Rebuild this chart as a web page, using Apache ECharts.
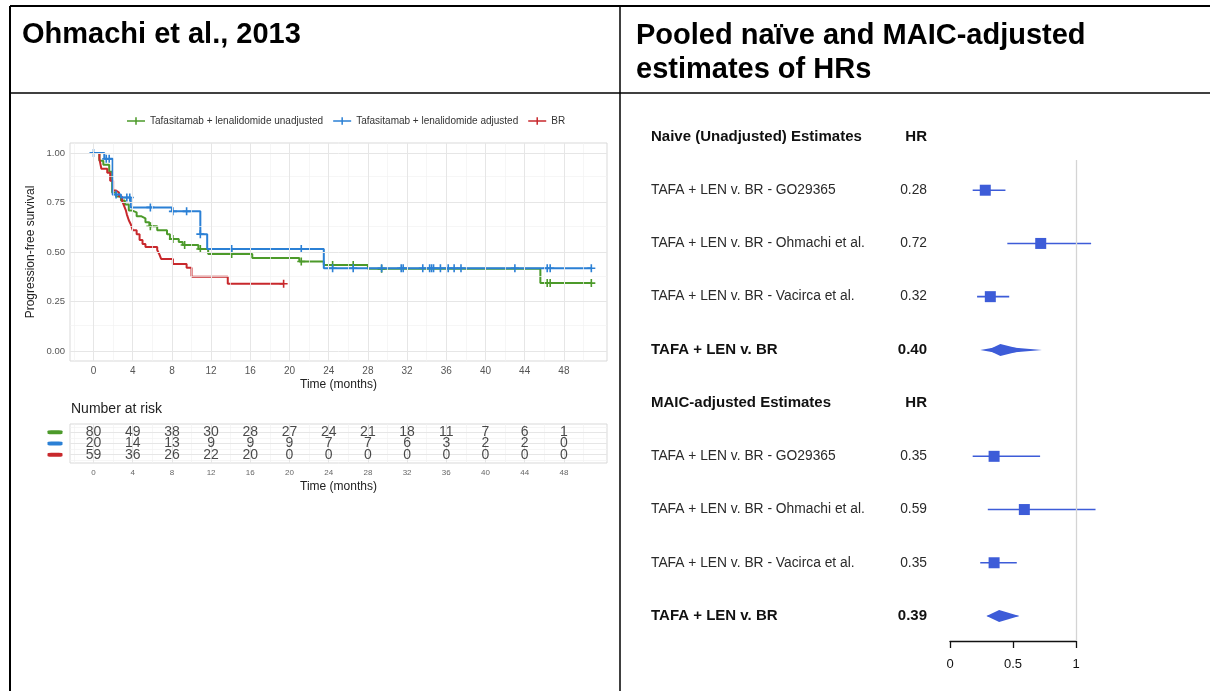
<!DOCTYPE html>
<html>
<head>
<meta charset="utf-8">
<script src="https://cdn.jsdelivr.net/npm/echarts@6/dist/echarts.min.js"></script>
<style>
  html, body { margin: 0; padding: 0; background: #fff; }
  #chart { width: 1210px; height: 691px; }
</style>
</head>
<body>
<div id="chart"></div>
<script>
// ---- KM curves (time in months, survival) ----
var greenT = [0, 0.6, 1.0, 1.6, 1.9, 2.3, 2.8, 3.2, 3.6, 3.9, 4.4, 4.9, 5.3, 5.7, 6.5, 7.5, 7.8, 8.7, 9.1, 10.7, 11.7, 16.2, 21.0, 23.5, 28.0, 45.6, 50.8];
var greenS = [1.0, 0.96, 0.94, 0.905, 0.80, 0.78, 0.76, 0.74, 0.71, 0.70, 0.68, 0.67, 0.65, 0.63, 0.61, 0.59, 0.565, 0.55, 0.535, 0.515, 0.49, 0.47, 0.452, 0.435, 0.415, 0.343, 0.343];
var greenCens = [5.8, 8.1, 9.3, 10.9, 14.1, 21.2, 24.4, 26.5, 29.4, 46.3, 46.6, 50.8];

var blueT = [0, 1.1, 1.95, 2.8, 3.8, 8.0, 10.9, 11.6, 23.5, 50.8];
var blueS = [1.0, 0.97, 0.79, 0.775, 0.725, 0.705, 0.59, 0.515, 0.418, 0.418];
var blueCens = [0, 1.3, 1.6, 2.3, 3.4, 3.7, 5.8, 8.1, 9.5, 10.9, 14.1, 21.2, 24.4, 26.5, 29.4, 31.4, 31.6, 33.6, 34.3, 34.5, 34.7, 35.4, 36.2, 36.8, 37.5, 43.0, 46.3, 46.6, 50.8];

var redT = [0, 0.6, 0.8, 1.4, 1.7, 2.0, 2.3, 2.6, 2.9, 3.1, 3.3, 3.4, 3.6, 3.8, 4.0, 4.4, 4.7, 5.0, 5.3, 6.5, 6.7, 6.9, 8.1, 9.5, 10.0, 13.7, 19.4];
var redS = [1.0, 0.97, 0.92, 0.90, 0.86, 0.81, 0.80, 0.78, 0.76, 0.735, 0.71, 0.69, 0.66, 0.64, 0.61, 0.59, 0.56, 0.54, 0.525, 0.51, 0.49, 0.465, 0.44, 0.42, 0.375, 0.34, 0.34];
var redCens = [19.4];

var seriesNames = ["Tafasitamab + lenalidomide unadjusted", "Tafasitamab + lenalidomide adjusted", "BR"];

// ---- number at risk ----
var riskMonths = [0, 4, 8, 12, 16, 20, 24, 28, 32, 36, 40, 44, 48];
var riskGreen = [80, 49, 38, 30, 28, 27, 24, 21, 18, 11, 7, 6, 1];
var riskBlue = [20, 14, 13, 9, 9, 9, 7, 7, 6, 3, 2, 2, 0];
var riskRed = [59, 36, 26, 22, 20, 0, 0, 0, 0, 0, 0, 0, 0];
var survTicks = [0, 0.25, 0.5, 0.75, 1];

// ---- forest plot ----
var rowNames = ["Naive (Unadjusted) Estimates", "TAFA + LEN v. BR - GO29365", "TAFA + LEN v. BR - Ohmachi et al.",
    "TAFA + LEN v. BR - Vacirca et al.", "TAFA + LEN v. BR", "MAIC-adjusted Estimates",
    "TAFA + LEN v. BR - GO29365", "TAFA + LEN v. BR - Ohmachi et al.", "TAFA + LEN v. BR - Vacirca et al.", "TAFA + LEN v. BR"];
var rowHR = ["HR", "0.28", "0.72", "0.32", "0.40", "HR", "0.35", "0.59", "0.35", "0.39"];
var boldRows = [0, 4, 5, 9];

var studyRows = [1, 2, 3, 6, 7, 8];
var studyHR = [0.28, 0.72, 0.32, 0.35, 0.59, 0.35];
var studyLo = [0.18, 0.455, 0.215, 0.18, 0.30, 0.24];
var studyHi = [0.44, 1.12, 0.47, 0.715, 1.155, 0.53];

var pooledRows = [4, 9];
var pooledHR = [0.40, 0.39];
var pooledLo = [0.24, 0.29];
var pooledHi = [0.73, 0.55];
var pooledInnerLo = [0.30, 0.29];
var pooledInnerHi = [0.59, 0.55];

var FONT = "Liberation Sans, Arial, sans-serif";
var GREEN = "#4c9a2a", BLUE = "#2b80d5", RED = "#c8282c", FOREST = "#3d5cd8";
var crossIcon = "path://M4,0h2v4h4v2h-4v4h-2v-4h-4v-2h4z";
var legendIcon = "path://M0,4h24v2h-24z M11,0h2v10h-2z";
var X_MIN = -2.4, X_MAX = 52.4;

function zip(a, b) {
    return a.map(function (v, i) { return [v, b[i]]; });
}
function survAt(T, S, t) {
    var s = S[0];
    for (var i = 0; i < T.length; i++) {
        if (T[i] <= t) s = S[i];
    }
    return s;
}
function censorPoints(T, S, cens) {
    return cens.map(function (t) { return [t, survAt(T, S, t)]; });
}

// gridlines (major/minor) as markLines
function gridMarks(xMajor, xMinor, yMajor, yMinor) {
    var major = {color: "#e6e6e6", width: 1, type: "solid"};
    var minor = {color: "#f2f2f2", width: 0.7, type: "solid"};
    var d = [];
    xMinor.forEach(function (v) { d.push({xAxis: v, lineStyle: minor}); });
    yMinor.forEach(function (v) { d.push({yAxis: v, lineStyle: minor}); });
    xMajor.forEach(function (v) { d.push({xAxis: v, lineStyle: major}); });
    yMajor.forEach(function (v) { d.push({yAxis: v, lineStyle: major}); });
    return {silent: true, symbol: ["none", "none"], label: {show: false}, data: d};
}

var minorMonths = [-2, 2, 6, 10, 14, 18, 22, 26, 30, 34, 38, 42, 46, 50];

function riskSeries(row, values) {
    return {
        type: "scatter", xAxisIndex: 1, yAxisIndex: 1, symbolSize: 1, z: 5,
        itemStyle: {color: "transparent"},
        label: {show: true, position: "inside", fontSize: 14, color: "#1a1a1a",
            formatter: function (p) { return p.value[2]; }},
        labelLayout: {hideOverlap: false},
        data: riskMonths.map(function (m, i) { return [m, row, values[i]]; })
    };
}

function censorSeries(T, S, cens, color, z) {
    return {type: "scatter", xAxisIndex: 0, yAxisIndex: 0, symbol: crossIcon, symbolSize: 8,
        itemStyle: {color: color, opacity: 1}, z: z, data: censorPoints(T, S, cens)};
}

var chart = echarts.init(document.getElementById("chart"));

var option = {
    animation: false,
    textStyle: {fontFamily: FONT},
    title: [
        {text: "Ohmachi et al., 2013", left: 22, top: 20, padding: 0,
            textStyle: {fontSize: 29, fontWeight: "bold", color: "#000", fontFamily: FONT}},
        {text: "Pooled naïve and MAIC-adjusted\nestimates of HRs", left: 636, top: 19, padding: 0,
            textStyle: {fontSize: 29, lineHeight: 34, fontWeight: "bold", color: "#000", fontFamily: FONT}},
        {text: "Number at risk", left: 71, top: 402, padding: 0,
            textStyle: {fontSize: 14, fontWeight: "normal", color: "#222", fontFamily: FONT}}
    ],
    graphic: [
        {type: "line", shape: {x1: 10, y1: 6, x2: 1210, y2: 6}, style: {stroke: "#000", lineWidth: 2}},
        {type: "line", shape: {x1: 10, y1: 6, x2: 10, y2: 691}, style: {stroke: "#000", lineWidth: 2}},
        {type: "line", shape: {x1: 620, y1: 6, x2: 620, y2: 691}, style: {stroke: "#000", lineWidth: 1.5}},
        {type: "line", shape: {x1: 10, y1: 93, x2: 1210, y2: 93}, style: {stroke: "#000", lineWidth: 1.5}}
    ],
    legend: {
        left: 122, top: 111, itemWidth: 18, itemHeight: 9, itemGap: 10,
        data: [
            {name: seriesNames[0], icon: legendIcon},
            {name: seriesNames[1], icon: legendIcon},
            {name: seriesNames[2], icon: legendIcon}
        ],
        textStyle: {fontSize: 10, color: "#333", fontFamily: FONT}
    },
    grid: [
        {left: 70, top: 143, width: 537, height: 218, show: true, borderColor: "#d9d9d9", borderWidth: 1, backgroundColor: "#fff"},
        {left: 70, top: 424, width: 537, height: 39, show: true, borderColor: "#d9d9d9", borderWidth: 1, backgroundColor: "#fff"},
        {left: 950, top: 137, width: 126, height: 504, show: false}
    ],
    xAxis: [
        {
            gridIndex: 0, type: "value", min: X_MIN, max: X_MAX,
            axisLine: {show: false}, splitLine: {show: false},
            axisTick: {customValues: riskMonths, length: 3, lineStyle: {color: "#999"}},
            axisLabel: {customValues: riskMonths, fontSize: 10, color: "#555", margin: 5},
            name: "Time (months)", nameLocation: "middle", nameGap: 18,
            nameTextStyle: {fontSize: 12, color: "#222"}
        },
        {
            gridIndex: 1, type: "value", min: X_MIN, max: X_MAX,
            axisLine: {show: false}, splitLine: {show: false},
            axisTick: {customValues: riskMonths, length: 3, lineStyle: {color: "#aaa"}},
            axisLabel: {customValues: riskMonths, fontSize: 8, color: "#666", margin: 6},
            name: "Time (months)", nameLocation: "middle", nameGap: 18,
            nameTextStyle: {fontSize: 12, color: "#222"}
        },
        {
            gridIndex: 2, type: "value", min: 0, max: 1, interval: 0.5, position: "bottom",
            axisLine: {show: true, onZero: false, lineStyle: {color: "#111", width: 1.3}},
            axisTick: {show: true, length: 7, lineStyle: {color: "#111", width: 1.3}},
            axisLabel: {fontSize: 13, color: "#111", margin: 17},
            splitLine: {show: false}
        }
    ],
    yAxis: [
        {
            gridIndex: 0, type: "value", min: -0.05, max: 1.05,
            axisLine: {show: false}, splitLine: {show: false},
            axisTick: {customValues: survTicks, length: 3, lineStyle: {color: "#999"}},
            axisLabel: {customValues: survTicks, fontSize: 9.5, color: "#555", margin: 5,
                formatter: function (v) { return v.toFixed(2); }},
            name: "Progression-free survival", nameLocation: "middle", nameGap: 33, nameRotate: 90,
            nameTextStyle: {fontSize: 12, color: "#222"}
        },
        {
            gridIndex: 1, type: "value", inverse: true, min: -0.75, max: 2.75,
            axisLine: {show: false}, splitLine: {show: false}, axisTick: {show: false},
            axisLabel: {show: false}
        },
        {
            gridIndex: 2, type: "value", inverse: true, min: 0, max: 9.47, interval: 1,
            axisLine: {show: false}, splitLine: {show: false}, axisTick: {show: false},
            axisLabel: {
                margin: 23, showMaxLabel: false,
                formatter: function (v) {
                    if (v !== Math.round(v) || v > 9) return "";
                    var b = boldRows.indexOf(v) >= 0;
                    return b ? "{nb|" + rowNames[v] + "}{hb|" + rowHR[v] + "}"
                        : "{n|" + rowNames[v] + "}{h|" + rowHR[v] + "}";
                },
                rich: {
                    n: {width: 240, align: "left", fontSize: 13.8, color: "#2a2a2a", fontFamily: FONT},
                    h: {width: 36, align: "right", fontSize: 13.8, color: "#2a2a2a", fontFamily: FONT},
                    nb: {width: 240, align: "left", fontSize: 15, fontWeight: "bold", color: "#111", fontFamily: FONT},
                    hb: {width: 36, align: "right", fontSize: 15, fontWeight: "bold", color: "#111", fontFamily: FONT}
                }
            }
        }
    ],
    series: [
        // KM grid lines
        {type: "line", xAxisIndex: 0, yAxisIndex: 0, data: [], z: 1,
            markLine: gridMarks(riskMonths, minorMonths, survTicks, [0.125, 0.375, 0.625, 0.875])},
        // risk table grid lines
        {type: "line", xAxisIndex: 1, yAxisIndex: 1, data: [], z: 1,
            markLine: gridMarks(riskMonths, minorMonths, [0, 1, 2], [-0.5, 0.5, 1.5, 2.5])},
        {name: seriesNames[0], type: "line", step: "end", xAxisIndex: 0, yAxisIndex: 0, showSymbol: false,
            color: GREEN, lineStyle: {width: 2}, data: zip(greenT, greenS), z: 3},
        {name: seriesNames[2], type: "line", step: "end", xAxisIndex: 0, yAxisIndex: 0, showSymbol: false,
            color: RED, lineStyle: {width: 2}, data: zip(redT, redS), z: 3},
        {name: seriesNames[1], type: "line", step: "end", xAxisIndex: 0, yAxisIndex: 0, showSymbol: false,
            color: BLUE, lineStyle: {width: 2}, data: zip(blueT, blueS), z: 4},
        censorSeries(greenT, greenS, greenCens, GREEN, 3),
        censorSeries(redT, redS, redCens, RED, 3),
        censorSeries(blueT, blueS, blueCens, BLUE, 4),
        // risk table colour keys (left of the table)
        {type: "scatter", xAxisIndex: 1, yAxisIndex: 1, clip: false, symbol: "roundRect",
            symbolSize: [15, 4], symbolOffset: [-15, 0], z: 5,
            data: [
                {value: [X_MIN, 0], itemStyle: {color: GREEN, opacity: 1}},
                {value: [X_MIN, 1], itemStyle: {color: BLUE, opacity: 1}},
                {value: [X_MIN, 2], itemStyle: {color: RED, opacity: 1}}
            ]},
        // number at risk values
        riskSeries(0, riskGreen),
        riskSeries(1, riskBlue),
        riskSeries(2, riskRed),
        // forest: CI whiskers + reference line
        {type: "custom", xAxisIndex: 2, yAxisIndex: 2, clip: false,
            data: studyRows.map(function (r, i) { return [r, studyLo[i], studyHi[i]]; }),
            renderItem: function (params, api) {
                var p1 = api.coord([api.value(1), api.value(0)]);
                var p2 = api.coord([api.value(2), api.value(0)]);
                return {type: "line", shape: {x1: p1[0], y1: p1[1], x2: p2[0], y2: p2[1]},
                    style: {stroke: FOREST, lineWidth: 1.6}};
            },
            markLine: {silent: true, symbol: ["none", "none"], label: {show: false},
                lineStyle: {color: "#d4d4d4", width: 1.3, type: "solid"},
                data: [[{coord: [1, 0.43]}, {coord: [1, 9.47]}]]},
            z: 3},
        {type: "scatter", xAxisIndex: 2, yAxisIndex: 2, symbol: "rect", symbolSize: 11,
            itemStyle: {color: FOREST, opacity: 1}, z: 4,
            data: studyRows.map(function (r, i) { return [studyHR[i], r]; })},
        // forest: pooled diamonds
        {type: "custom", xAxisIndex: 2, yAxisIndex: 2, clip: false, z: 4,
            data: pooledRows.map(function (r, i) {
                return [r, pooledHR[i], pooledLo[i], pooledHi[i], pooledInnerLo[i], pooledInnerHi[i]];
            }),
            renderItem: function (params, api) {
                var row = api.value(0);
                var c = api.coord([api.value(1), row]);
                var lo = api.coord([api.value(2), row]);
                var hi = api.coord([api.value(3), row]);
                var ilo = api.coord([api.value(4), row]);
                var ihi = api.coord([api.value(5), row]);
                return {type: "group", children: [
                    {type: "polygon", shape: {points: [[lo[0], c[1]], [c[0], c[1] - 3.5], [hi[0], c[1]], [c[0], c[1] + 3.5]]},
                        style: {fill: FOREST}},
                    {type: "polygon", shape: {points: [[ilo[0], c[1]], [c[0], c[1] - 6], [ihi[0], c[1]], [c[0], c[1] + 6]]},
                        style: {fill: FOREST}}
                ]};
            }}
    ]
};

chart.setOption(option);
</script>
</body>
</html>
